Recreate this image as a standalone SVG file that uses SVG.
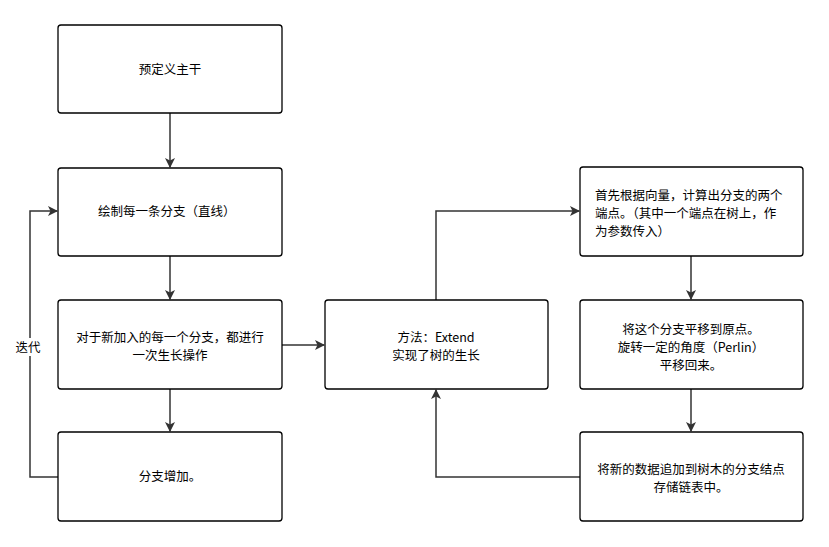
<svg xmlns="http://www.w3.org/2000/svg" width="829" height="547" viewBox="0 0 829 547">
<defs>
<marker id="a" markerWidth="10" markerHeight="10" refX="9" refY="5" orient="auto" markerUnits="userSpaceOnUse"><path d="M0,0 L10,5 L0,10 L2.5,5 Z" fill="#333"/></marker>
</defs>
<style>
rect{fill:#fff;stroke:#000;stroke-width:1.3}
text{font-family:"Noto Sans CJK SC","Liberation Sans",sans-serif;font-size:12.5px;fill:#000}
.c path{fill:none;stroke:#333;stroke-width:1.5;marker-end:url(#a)}
</style>
<rect x="0" y="0" width="829" height="547" style="fill:#fff;stroke:none"/>
<g class="c" id="connectors">
<path d="M170,113 V167"/>
<path d="M170,256 V299"/>
<path d="M170,389 V431"/>
<path d="M58,477 H30 V211 H57"/>
<path d="M282,345 H324"/>
<path d="M436,300 V211 H579"/>
<path d="M691,256 V299"/>
<path d="M691,389 V431"/>
<path d="M580,477 H436 V390"/>
<rect x="12" y="338" width="34" height="18" style="stroke:none"/>
<text x="28" y="352" text-anchor="middle">迭代</text>
</g>
<g id="n1"><rect x="58" y="25" width="224" height="88" rx="3"/><text x="170" y="74" text-anchor="middle">预定义主干</text></g>
<g id="n2"><rect x="58" y="168" width="224" height="88" rx="3"/><text x="98" y="216">绘制每一条分支（直线）</text></g>
<g id="n3"><rect x="58" y="300" width="224" height="89" rx="3"/><text x="170" y="342" text-anchor="middle">对于新加入的每一个分支，都进行</text><text x="170" y="360" text-anchor="middle">一次生长操作</text></g>
<g id="n4"><rect x="58" y="432" width="224" height="89" rx="3"/><text x="170" y="481" text-anchor="middle">分支增加。</text></g>
<g id="n5"><rect x="325" y="300" width="223" height="89" rx="3"/><text x="436" y="342" text-anchor="middle">方法：Extend</text><text x="436" y="360" text-anchor="middle">实现了树的生长</text></g>
<g id="n6"><rect x="580" y="167" width="223" height="89" rx="3"/><text x="595" y="200">首先根据向量，计算出分支的两个</text><text x="595" y="218">端点。（其中一个端点在树上，作</text><text x="595" y="236">为参数传入）</text></g>
<g id="n7"><rect x="580" y="300" width="223" height="89" rx="3"/><text x="691" y="334" text-anchor="middle">将这个分支平移到原点。</text><text x="691" y="352" text-anchor="middle">旋转一定的角度（Perlin）</text><text x="691" y="370" text-anchor="middle">平移回来。</text></g>
<g id="n8"><rect x="580" y="432" width="223" height="89" rx="3"/><text x="691" y="474" text-anchor="middle">将新的数据追加到树木的分支结点</text><text x="691" y="492" text-anchor="middle">存储链表中。</text></g>
</svg>
